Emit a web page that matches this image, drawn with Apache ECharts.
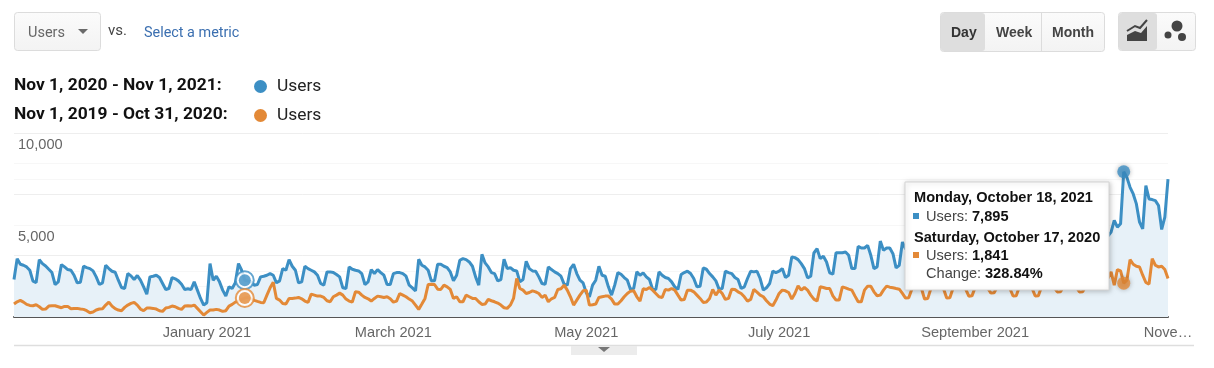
<!DOCTYPE html>
<html><head><meta charset="utf-8">
<style>html,body{margin:0;padding:0;background:#fff}#c{width:1214px;height:368px}</style>
<script src="https://cdn.jsdelivr.net/npm/echarts@6/dist/echarts.min.js"></script>
</head><body><div id="c"></div>
<script>
const currentRange = 'Nov 1, 2020 - Nov 1, 2021';
const previousRange = 'Nov 1, 2019 - Oct 31, 2020';
const metricName = 'Users';
// Daily users, Nov 1 2020 .. Nov 1 2021 (values behind the tooltip are estimates)
const currentUsers = [
2037,3172,2866,2812,2722,2541,1946,1874,3118,2902,
2776,2595,2415,1766,1910,2848,2722,2577,2541,2271,
1856,1892,2758,2686,2631,2505,2181,1766,1856,2812,
2631,2487,2433,2000,1604,1550,2361,2235,2037,2253,
2000,1640,1243,2181,2217,2271,2145,1820,1496,1550,
2145,2073,1964,1784,1496,1532,1496,1910,1460,1009,
648,775,2902,2000,2217,1910,1460,1135,1640,1550,
1856,2902,2541,2000,1964,1910,1730,1766,2181,2217,
2271,2361,2271,1856,1964,2631,2541,3118,2758,2541,
1856,1910,2758,2631,2541,2451,2271,1820,1730,2451,
2451,2415,2307,2181,1586,1550,2722,2595,2541,2505,
2361,1766,1910,2577,2361,2577,2415,2271,1766,1766,
2361,2415,2415,2361,2217,1730,1586,1423,3136,2812,
2722,2541,1964,1964,2866,2866,2758,2686,2451,1964,
2271,3082,3172,3118,2992,2758,2181,1730,3407,2938,
2722,2415,2361,1964,2037,3136,2631,2686,2541,2505,
1910,2037,3028,2631,2505,2487,2181,1820,1784,2722,
2577,2451,2361,2217,1784,1730,2631,2866,2361,2000,
1856,1315,1099,1730,2000,2758,2271,2217,1640,1189,
1730,2415,2325,2145,2000,1496,1550,2451,2271,2397,
2181,2037,1496,1496,2451,2271,2145,2091,1910,1640,
1496,2307,2415,2487,2361,2091,1640,1676,2667,2595,
2361,2181,1964,1514,1550,2487,2415,2361,2145,2037,
1550,1640,2091,2487,2451,2487,2091,1460,1586,1820,
2487,2415,2487,2631,2145,2271,3262,3226,3118,2901,
2631,2126,2216,3478,3713,3172,3298,2991,2396,2324,
3496,3496,3496,3532,3352,2631,2631,3839,3749,3749,
3893,3352,2631,2721,4127,3622,3749,3749,3442,2667,
2811,4073,3700,3650,3550,3100,2750,2800,4100,3900,
3850,3800,3500,2850,2900,4200,4050,3950,3900,3550,
2950,3000,4300,4100,4050,3950,3600,3050,3100,4350,
4200,4100,4050,3700,3100,3150,4400,4250,4150,4050,
3750,3200,3250,4500,4350,4250,4150,3800,3250,3300,
4550,4400,4300,4200,3850,3300,3350,4600,4450,4350,
4250,3900,3400,3450,4650,4500,4400,4615,5246,4885,
5065,7895,7589,7049,6688,6147,5155,4795,7139,6417,
6381,6327,6057,4759,5426,7499
];
// Daily users of the previous year's period, same day order
const previousUsers = [
702,828,901,810,684,630,612,666,558,414,
432,594,612,612,558,504,576,576,450,468,
468,432,414,342,233,270,378,432,450,648,
810,594,450,378,342,522,648,738,792,648,
432,342,486,486,468,432,342,306,486,522,
594,558,468,414,594,612,594,648,468,288,
107,252,378,378,414,378,306,342,594,684,
810,865,955,1030,1063,991,901,846,792,774,
1189,1586,1892,1009,919,738,702,1009,1009,1027,
1063,991,865,792,1243,1189,1135,1135,1063,883,
828,1099,1189,1297,1189,973,865,810,1369,1351,
1189,1063,991,865,1009,1135,1099,1063,1099,991,
810,865,1279,1189,1099,973,865,648,414,702,
1009,1766,1784,1766,1514,1496,1730,1640,1496,1009,
1099,828,828,1189,1099,1009,1009,828,684,702,
955,883,828,756,648,504,468,648,1009,2091,
1550,1460,1279,1333,1423,1369,1279,1063,1189,828,
991,1063,1496,1532,1730,1460,1099,648,919,1189,
1423,1460,648,666,702,1063,1099,1135,1135,973,
702,702,883,1099,1279,1405,1423,1099,865,1532,
1496,1604,1460,1279,1099,1063,1496,1460,1550,1460,
1189,919,955,1460,1460,1369,1189,1009,792,810,
1009,1496,1189,1460,1279,955,1009,1514,1496,1369,
1279,1099,865,955,1496,1351,1189,1099,883,702,
612,919,1279,1460,1423,1333,972,1279,1693,1459,
1603,1459,1189,972,864,1639,1603,1549,1549,1153,
918,918,1639,1585,1513,1459,1135,828,828,1459,
1675,1675,1369,1153,1189,1459,1675,1621,1585,1549,
1513,1279,1027,1045,1520,1640,1650,1560,980,1000,
1540,1660,1680,1640,1540,1030,1040,1560,1680,1700,
1650,1520,1130,1150,1600,1720,1740,1700,1560,1300,
1320,1640,1760,1780,1720,1550,1140,1160,1640,1780,
1800,1740,1560,1140,1160,1650,1800,1820,1760,1600,
1360,1370,1680,1820,1840,1780,1620,1360,1370,1700,
1840,1860,1800,1680,2000,2300,2100,2451,1730,2577,
2505,1841,2000,3118,2866,2757,2721,2271,1874,1784,
3172,2812,2721,2757,2577,2090
];
const xTickDays = {61:'January 2021',120:'March 2021',181:'May 2021',242:'July 2021',304:'September 2021',365:'Nove…'};
const yTickLabels = {5000:'5,000',10000:'10,000'};
const hoverDay = 73;
const activeDay = 351;
const intervals = ['Day','Week','Month'];
const tipLines = ['Monday, October 18, 2021','Saturday, October 17, 2020','7,895','1,841','328.84%'];

const BLUE='#3c8fc4', ORANGE='#e38937', SANS='"Liberation Sans",Arial,sans-serif', ROB='Roboto,sans-serif';
const days=currentUsers.map((_,i)=>new Date(Date.UTC(2020,10,1+i)).toISOString().slice(0,10));

function txt(x,y,text,size,fill,font,weight){return {type:'text',z:200,silent:true,x:x,y:y+1,style:{text:text,fontSize:size,fill:fill,fontFamily:font||ROB,fontWeight:weight||'normal',textBaseline:'middle',textVerticalAlign:'middle'}};}
function box(x,y,w,h,fill,stroke,r,extra){return Object.assign({type:'rect',z:190,silent:true,shape:{x:x,y:y,width:w,height:h,r:r||0},style:Object.assign({fill:fill,stroke:stroke||null,lineWidth:stroke?1:0})},extra||{});}
function tri(pts,fill){return {type:'polygon',z:201,silent:true,shape:{points:pts},style:{fill:fill}};}
const grad=(a,b)=>new echarts.graphic.LinearGradient(0,0,0,1,[{offset:0,color:a},{offset:1,color:b}]);

const g=[
 box(14.5,12.5,86,38,grad('#fbfbfb','#f3f3f3'),'#dcdcdc',3),
 txt(28,32,metricName,14.5,'#666'), tri([[78,29],[88,29],[83,34]],'#6a6a6a'),
 txt(108,30,'vs.',15,'#444'), txt(144,32,'Select a metric',14.4,'#3b6fb0'),
 txt(14,85,currentRange+':',17.4,'#111',ROB,'bold'), txt(14,114,previousRange+':',17.4,'#111',ROB,'bold'),
 // interval buttons
 box(940.5,12.5,164,39,grad('#fbfbfb','#f3f3f3'),'#dcdcdc',3),
 box(941,13,44,38,'#dedede',null,3),
 {type:'line',z:191,silent:true,shape:{x1:1041.5,y1:13,x2:1041.5,y2:51},style:{stroke:'#dcdcdc',lineWidth:1}},
 txt(951,32,intervals[0],14,'#333',SANS,'bold'),
 txt(996,32,intervals[1],14,'#444',SANS,'bold'),
 txt(1052,32,intervals[2],14,'#444',SANS,'bold'),
 // chart type buttons
 box(1118.5,12.5,77,38,grad('#fbfbfb','#f3f3f3'),'#dcdcdc',3),
 box(1119,13,38,37,'#dedede',null,3),
 tri([[1127,41],[1127,35],[1135,31],[1141,33],[1147,26],[1147,41]],'#444'),
 {type:'polyline',z:201,silent:true,shape:{points:[[1127,31],[1135,26],[1140,28],[1147,20]]},style:{stroke:'#444',lineWidth:2,fill:null}},
 {type:'circle',z:201,silent:true,shape:{cx:1177,cy:26,r:5.5},style:{fill:'#444'}},
 {type:'circle',z:201,silent:true,shape:{cx:1168,cy:35,r:3.5},style:{fill:'#444'}},
 {type:'circle',z:201,silent:true,shape:{cx:1182,cy:37,r:4},style:{fill:'#444'}},
 // bottom strip
 {type:'line',z:100,silent:true,shape:{x1:14,y1:345.5,x2:1194,y2:345.5},style:{stroke:'#dedede',lineWidth:1.5}},
 box(571,346,66,9,'#ececec',null,0),
 tri([[598,347],[610,347],[604,352]],'#777'),
 // value box
 box(905,182,204,108,'#fff','#cfcfcf',0,{style:{fill:'#fff',stroke:'#d4d4d4',lineWidth:1,shadowBlur:5,shadowColor:'rgba(0,0,0,0.22)',shadowOffsetX:1,shadowOffsetY:1}}),
 txt(914,197,tipLines[0],14.6,'#111',SANS,'bold'),
 box(913,213,6,6,BLUE,null,0,{z:201}),
 txt(926,216,metricName+':',14.6,'#444',SANS), txt(972,216,tipLines[2],14.6,'#111',SANS,'bold'),
 txt(914,237,tipLines[1],14.6,'#111',SANS,'bold'),
 box(913,252,6,6,ORANGE,null,0,{z:201}),
 txt(926,255,metricName+':',14.6,'#444',SANS), txt(972,255,tipLines[3],14.6,'#111',SANS,'bold'),
 txt(926,273,'Change:',14.6,'#444',SANS), txt(985,273,tipLines[4],14.6,'#111',SANS,'bold')
];
const legendBase={orient:'horizontal',icon:'circle',itemWidth:13,itemHeight:13,itemGap:0,selectedMode:false,padding:0,formatter:()=>metricName,
 textStyle:{fontFamily:ROB,fontSize:17.4,color:'#222',padding:[0,0,0,5]}};
const gridY=(interval,color,label)=>({type:'value',min:0,max:10000,interval:interval,position:'left',
 axisLine:{show:false},axisTick:{show:false},
 axisLabel:label?{show:true,inside:true,margin:4,verticalAlign:'top',padding:[4,0,0,0],color:'#666',fontFamily:SANS,fontSize:14.6,formatter:v=>yTickLabels[v]||''}:{show:false},
 splitLine:{show:true,lineStyle:{color:color,width:1}}});
const chart=echarts.init(document.getElementById('c'),null,{renderer:'canvas'});
chart.setOption({
 animation:false,
 backgroundColor:'#fff',
 grid:{left:14,right:46,top:133,bottom:51,containLabel:false},
 legend:[
  Object.assign({},legendBase,{left:254,top:78,data:[currentRange]}),
  Object.assign({},legendBase,{left:254,top:107,data:[previousRange]})
 ],
 xAxis:{type:'category',data:days,boundaryGap:false,
  axisLine:{show:true,lineStyle:{color:'#555',width:2}},axisTick:{show:false},splitLine:{show:false},
  axisLabel:{interval:(i)=>xTickDays[i]!==undefined,hideOverlap:false,showMinLabel:true,showMaxLabel:true,margin:8,color:'#666',fontFamily:SANS,fontSize:14.6,
   formatter:(v,i)=>xTickDays[i]||''}},
 yAxis:[gridY(2500,'#f7f7f7',true),gridY(10000/6,'#f7f7f7',false),gridY(10000/3,'#eeeeee',false)],
 series:[
  {name:currentRange,type:'line',data:currentUsers,showSymbol:false,symbol:'none',lineStyle:{color:BLUE,width:3},itemStyle:{color:BLUE},areaStyle:{color:'#e7f1f8',opacity:1},z:3},
  {name:previousRange,type:'line',data:previousUsers,showSymbol:false,symbol:'none',lineStyle:{color:ORANGE,width:3},itemStyle:{color:ORANGE},z:4},
  {name:'hover ring',type:'scatter',symbolSize:18,z:5,
    data:[{value:[hoverDay,currentUsers[hoverDay]],itemStyle:{color:'#fff',borderColor:BLUE,borderWidth:2}},{value:[hoverDay,previousUsers[hoverDay]],itemStyle:{color:'#fff',borderColor:ORANGE,borderWidth:2}}]},
  {name:'hover dot',type:'scatter',symbolSize:12,z:6,data:[{value:[hoverDay,currentUsers[hoverDay]],itemStyle:{color:BLUE}},{value:[hoverDay,previousUsers[hoverDay]],itemStyle:{color:ORANGE}}]},
  {name:'active dot',type:'scatter',symbolSize:13,z:7,data:[{value:[activeDay,currentUsers[activeDay]],itemStyle:{color:BLUE,shadowBlur:5,shadowColor:'rgba(0,0,0,0.35)'}},{value:[activeDay,previousUsers[activeDay]],itemStyle:{color:ORANGE,shadowBlur:5,shadowColor:'rgba(0,0,0,0.35)'}}]}
 ],
 graphic:{elements:g}
});
</script></body></html>
